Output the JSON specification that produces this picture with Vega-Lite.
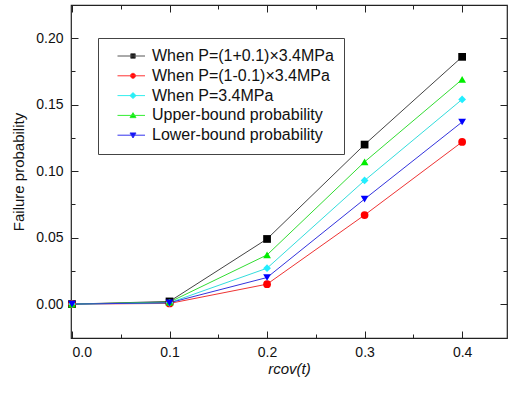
{
  "$schema": "https://vega.github.io/schema/vega-lite/v6.json",
  "width": 436,
  "height": 333,
  "autosize": "none",
  "padding": {"left": 71, "top": 5, "right": 4, "bottom": 55},
  "background": "white",
  "config": {
    "view": {"stroke": "#222222", "strokeWidth": 1.2},
    "axis": {
      "domain": false,
      "grid": false,
      "tickColor": "#222222",
      "labelColor": "#111111",
      "labelFont": "Liberation Sans",
      "labelFontSize": 14,
      "titleFont": "Liberation Sans",
      "titleFontSize": 15,
      "titleFontWeight": "normal",
      "titleColor": "#111111"
    },
    "legend": {"labelFont": "Liberation Sans"}
  },
  "data": {
    "values": [
      {"x": 0.0, "s": "When P=(1+0.1)×3.4MPa", "y": 0.0},
      {"x": 0.1, "s": "When P=(1+0.1)×3.4MPa", "y": 0.002},
      {"x": 0.2, "s": "When P=(1+0.1)×3.4MPa", "y": 0.049},
      {"x": 0.3, "s": "When P=(1+0.1)×3.4MPa", "y": 0.120},
      {"x": 0.4, "s": "When P=(1+0.1)×3.4MPa", "y": 0.186},
      {"x": 0.0, "s": "When P=(1-0.1)×3.4MPa", "y": 0.0},
      {"x": 0.1, "s": "When P=(1-0.1)×3.4MPa", "y": 0.0005},
      {"x": 0.2, "s": "When P=(1-0.1)×3.4MPa", "y": 0.015},
      {"x": 0.3, "s": "When P=(1-0.1)×3.4MPa", "y": 0.067},
      {"x": 0.4, "s": "When P=(1-0.1)×3.4MPa", "y": 0.122},
      {"x": 0.0, "s": "When P=3.4MPa", "y": 0.0},
      {"x": 0.1, "s": "When P=3.4MPa", "y": 0.001},
      {"x": 0.2, "s": "When P=3.4MPa", "y": 0.027},
      {"x": 0.3, "s": "When P=3.4MPa", "y": 0.093},
      {"x": 0.4, "s": "When P=3.4MPa", "y": 0.154},
      {"x": 0.0, "s": "Upper-bound probability", "y": 0.0},
      {"x": 0.1, "s": "Upper-bound probability", "y": 0.0015},
      {"x": 0.2, "s": "Upper-bound probability", "y": 0.037},
      {"x": 0.3, "s": "Upper-bound probability", "y": 0.107},
      {"x": 0.4, "s": "Upper-bound probability", "y": 0.169},
      {"x": 0.0, "s": "Lower-bound probability", "y": 0.0},
      {"x": 0.1, "s": "Lower-bound probability", "y": 0.001},
      {"x": 0.2, "s": "Lower-bound probability", "y": 0.020},
      {"x": 0.3, "s": "Lower-bound probability", "y": 0.079},
      {"x": 0.4, "s": "Lower-bound probability", "y": 0.137}
    ]
  },
  "layer": [
    {
      "mark": {"type": "line", "strokeWidth": 1, "clip": true},
      "encoding": {
        "x": {
          "field": "x", "type": "quantitative",
          "scale": {"domain": [-0.001, 0.446], "nice": false, "zero": false},
          "axis": {
            "orient": "bottom",
            "title": "rcov(t)",
            "titleFontStyle": "italic",
            "titlePadding": 2,
            "values": [0, 0.05, 0.1, 0.15, 0.2, 0.25, 0.3, 0.35, 0.4],
            "labelExpr": "round(datum.value*20) % 2 === 1 ? '' : format(datum.value, '.1f')",
            "tickSize": {"condition": {"test": "round(datum.value*20) % 2 === 1", "value": -4}, "value": -7},
            "labelPadding": 14
          }
        },
        "y": {
          "field": "y", "type": "quantitative",
          "scale": {"domain": [-0.0255, 0.225], "nice": false, "zero": false},
          "axis": {
            "orient": "left",
            "title": "Failure probability",
            "titlePadding": 9,
            "values": [0, 0.025, 0.05, 0.075, 0.1, 0.125, 0.15, 0.175, 0.2],
            "labelExpr": "round(datum.value*40) % 2 === 1 ? '' : format(datum.value, '.2f')",
            "tickSize": {"condition": {"test": "round(datum.value*40) % 2 === 1", "value": -4}, "value": -7},
            "labelPadding": 15
          }
        },
        "color": {
          "field": "s", "type": "nominal", "legend": null,
          "scale": {
            "domain": ["When P=(1+0.1)×3.4MPa", "When P=(1-0.1)×3.4MPa", "When P=3.4MPa", "Upper-bound probability", "Lower-bound probability"],
            "range": ["#444444", "#ee3333", "#33dddd", "#33dd33", "#3333dd"]
          }
        }
      }
    },
    {
      "mark": {"type": "point", "filled": true, "opacity": 1, "size": 60},
      "encoding": {
        "x": {
          "field": "x", "type": "quantitative",
          "axis": {
            "orient": "top", "title": null, "labels": false,
            "values": [0, 0.05, 0.1, 0.15, 0.2, 0.25, 0.3, 0.35, 0.4],
            "tickSize": {"condition": {"test": "round(datum.value*20) % 2 === 1", "value": -4}, "value": -7}
          }
        },
        "y": {
          "field": "y", "type": "quantitative",
          "axis": {
            "orient": "right", "title": null, "labels": false,
            "values": [0, 0.025, 0.05, 0.075, 0.1, 0.125, 0.15, 0.175, 0.2],
            "tickSize": {"condition": {"test": "round(datum.value*40) % 2 === 1", "value": -4}, "value": -7}
          }
        },
        "color": {
          "field": "s", "type": "nominal", "legend": null,
          "scale": {
            "domain": ["When P=(1+0.1)×3.4MPa", "When P=(1-0.1)×3.4MPa", "When P=3.4MPa", "Upper-bound probability", "Lower-bound probability"],
            "range": ["#000000", "#ff0000", "#22eeff", "#00ee00", "#0000ff"]
          }
        },
        "shape": {
          "field": "s", "type": "nominal", "legend": null,
          "scale": {
            "domain": ["When P=(1+0.1)×3.4MPa", "When P=(1-0.1)×3.4MPa", "When P=3.4MPa", "Upper-bound probability", "Lower-bound probability"],
            "range": ["square", "circle", "diamond", "triangle-up", "triangle-down"]
          }
        }
      }
    },
    {
      "transform": [{"filter": "false"}],
      "mark": {"type": "point", "filled": true, "opacity": 1, "size": 144, "strokeWidth": 1},
      "encoding": {
        "x": {"field": "x", "type": "quantitative", "axis": null},
        "y": {"field": "y", "type": "quantitative", "axis": null},
        "fill": {
          "field": "s", "type": "nominal",
          "scale": {
            "domain": ["When P=(1+0.1)×3.4MPa", "When P=(1-0.1)×3.4MPa", "When P=3.4MPa", "Upper-bound probability", "Lower-bound probability"],
            "range": ["#000000", "#ff0000", "#22eeff", "#00ee00", "#0000ff"]
          },
          "legend": {
            "title": null,
            "orient": "none",
            "legendX": 27,
            "legendY": 33,
            "padding": 10,
            "strokeColor": "#444444",
            "fillColor": "white",
            "symbolOpacity": 1,
            "symbolOffset": 17,
            "labelOffset": 11,
            "labelFontSize": 16,
            "labelColor": "#111111",
            "labelLimit": 400,
            "rowPadding": 3.8,
            "symbolStrokeWidth": 1
          }
        },
        "stroke": {
          "field": "s", "type": "nominal",
          "scale": {
            "domain": ["When P=(1+0.1)×3.4MPa", "When P=(1-0.1)×3.4MPa", "When P=3.4MPa", "Upper-bound probability", "Lower-bound probability"],
            "range": ["#555555", "#ff3333", "#33eeee", "#33ee33", "#3333ee"]
          }
        },
        "shape": {
          "field": "s", "type": "nominal",
          "scale": {
            "domain": ["When P=(1+0.1)×3.4MPa", "When P=(1-0.1)×3.4MPa", "When P=3.4MPa", "Upper-bound probability", "Lower-bound probability"],
            "range": [
              "M-3.1,0H2.4M-0.45,-0.45H0.45V0.45H-0.45Z",
              "M-3.1,0H2.4M0.5,0A0.5,0.5,0,1,1,-0.5,0A0.5,0.5,0,1,1,0.5,0Z",
              "M-3.1,0H2.4M0,-0.6L0.6,0L0,0.6L-0.6,0Z",
              "M-3.1,0H2.4M0,-0.55L0.6,0.45H-0.6Z",
              "M-3.1,0H2.4M0,0.55L0.6,-0.45H-0.6Z"
            ]
          }
        }
      }
    }
  ],
  "resolve": {
    "scale": {"color": "independent", "shape": "independent", "fill": "independent", "stroke": "independent"},
    "axis": {"x": "independent", "y": "independent"}
  }
}
